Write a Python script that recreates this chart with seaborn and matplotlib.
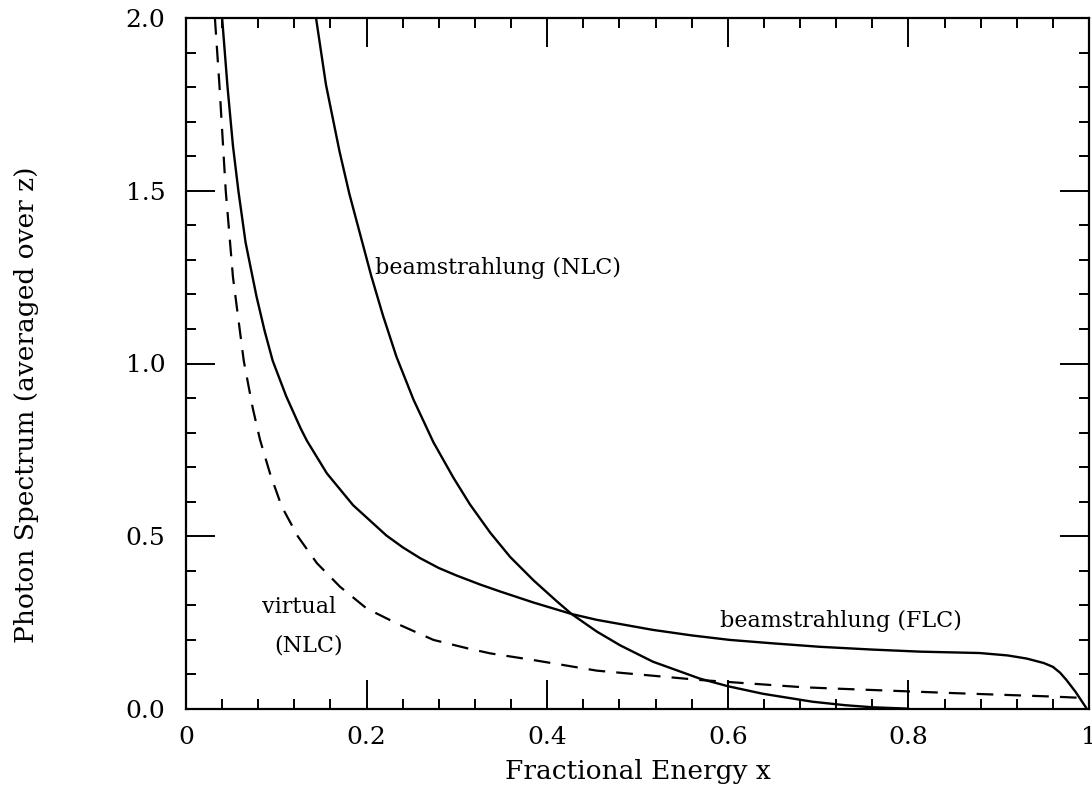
import matplotlib
matplotlib.use("Agg")
import matplotlib.pyplot as plt
import seaborn as sns
from matplotlib.ticker import MultipleLocator, FixedLocator

# ---- data ----
flc_x = [0.040, 0.046, 0.052, 0.058, 0.066, 0.078, 0.087, 0.096, 0.111, 0.127, 0.134,
         0.156, 0.185, 0.222, 0.240, 0.259, 0.280, 0.300, 0.326, 0.348, 0.385, 0.427,
         0.455, 0.517, 0.560, 0.602, 0.650, 0.702, 0.760, 0.813, 0.879, 0.910, 0.931,
         0.950, 0.960, 0.968, 0.975, 0.985, 0.997]
flc_y = [2.000, 1.800, 1.630, 1.500, 1.350, 1.195, 1.095, 1.008, 0.905, 0.812, 0.776,
         0.682, 0.590, 0.502, 0.468, 0.437, 0.408, 0.386, 0.360, 0.340, 0.308, 0.275,
         0.258, 0.229, 0.213, 0.200, 0.190, 0.180, 0.172, 0.166, 0.162, 0.155, 0.146,
         0.133, 0.122, 0.105, 0.084, 0.050, 0.003]

nlc_x = [0.144, 0.155, 0.170, 0.181, 0.205, 0.218, 0.233, 0.252, 0.274, 0.296, 0.3145,
         0.337, 0.359, 0.385, 0.4105, 0.427, 0.455, 0.481, 0.517, 0.569, 0.600, 0.639,
         0.694, 0.730, 0.760, 0.800]
nlc_y = [2.000, 1.807, 1.614, 1.490, 1.255, 1.140, 1.020, 0.895, 0.772, 0.670, 0.592,
         0.510, 0.440, 0.372, 0.312, 0.275, 0.224, 0.184, 0.137, 0.088, 0.066, 0.044,
         0.021, 0.011, 0.005, 0.001]

virt_x = [0.032, 0.037, 0.044, 0.052, 0.064, 0.074, 0.082, 0.093, 0.106, 0.124, 0.145,
          0.1705, 0.200, 0.237, 0.274, 0.311, 0.337, 0.384, 0.455, 0.569, 0.683, 0.720,
          0.850, 0.960, 0.993]
virt_y = [2.000, 1.807, 1.500, 1.250, 1.007, 0.870, 0.779, 0.682, 0.586, 0.499, 0.422,
          0.354, 0.291, 0.243, 0.200, 0.176, 0.161, 0.142, 0.111, 0.084, 0.063, 0.059,
          0.046, 0.036, 0.032]

x_ticks = [0, 0.2, 0.4, 0.6, 0.8, 1.0]
x_tick_labels = ["0", "0.2", "0.4", "0.6", "0.8", "1"]
y_ticks = [0.0, 0.5, 1.0, 1.5, 2.0]
y_tick_labels = ["0.0", "0.5", "1.0", "1.5", "2.0"]

# ---- style ----
sns.set_style("ticks")
plt.rcParams["font.family"] = ["DejaVu Serif"]

fig = plt.figure(figsize=(10.92, 7.87), dpi=100)
ax = fig.add_axes([186 / 1092, 78 / 787, 903 / 1092, 691 / 787])

sns.lineplot(x=flc_x, y=flc_y, ax=ax, sort=False, color="black", lw=1.7, estimator=None)
sns.lineplot(x=nlc_x, y=nlc_y, ax=ax, sort=False, color="black", lw=1.7, estimator=None)
sns.lineplot(x=virt_x, y=virt_y, ax=ax, sort=False, color="black", lw=1.6,
             estimator=None, linestyle=(0, (7.5, 5)))

ax.set_xlim(0, 1)
ax.set_ylim(0, 2.0)

ax.xaxis.set_major_locator(FixedLocator(x_ticks))
ax.set_xticklabels(x_tick_labels)
ax.yaxis.set_major_locator(FixedLocator(y_ticks))
ax.set_yticklabels(y_tick_labels)
ax.xaxis.set_minor_locator(MultipleLocator(0.04))
ax.yaxis.set_minor_locator(MultipleLocator(0.1))

ax.tick_params(which="both", direction="in", top=True, right=True, width=1.4, color="black")
ax.tick_params(which="major", length=21)
ax.tick_params(which="minor", length=7)
ax.tick_params(axis="x", which="major", pad=12, labelsize=18, labelcolor="black")
ax.tick_params(axis="y", which="major", pad=15, labelsize=18, labelcolor="black")

for s in ax.spines.values():
    s.set_linewidth(1.6)
    s.set_color("black")
    s.set_visible(True)

ax.set_xlabel("Fractional Energy x", fontsize=19, color="black")
ax.set_ylabel("Photon Spectrum (averaged over z)", fontsize=19, color="black")
ax.xaxis.set_label_coords(0.5, -0.072)
ax.yaxis.set_label_coords(-0.163, 0.44)

ax.text(0.209, 1.276, "beamstrahlung (NLC)", fontsize=16, ha="left", va="center", color="black")
ax.text(0.591, 0.255, "beamstrahlung (FLC)", fontsize=16, ha="left", va="center", color="black")
ax.text(0.166, 0.296, "virtual", fontsize=16, ha="right", va="center", color="black")
ax.text(0.174, 0.185, "(NLC)", fontsize=16, ha="right", va="center", color="black")

fig.savefig("out.png", dpi=100)
